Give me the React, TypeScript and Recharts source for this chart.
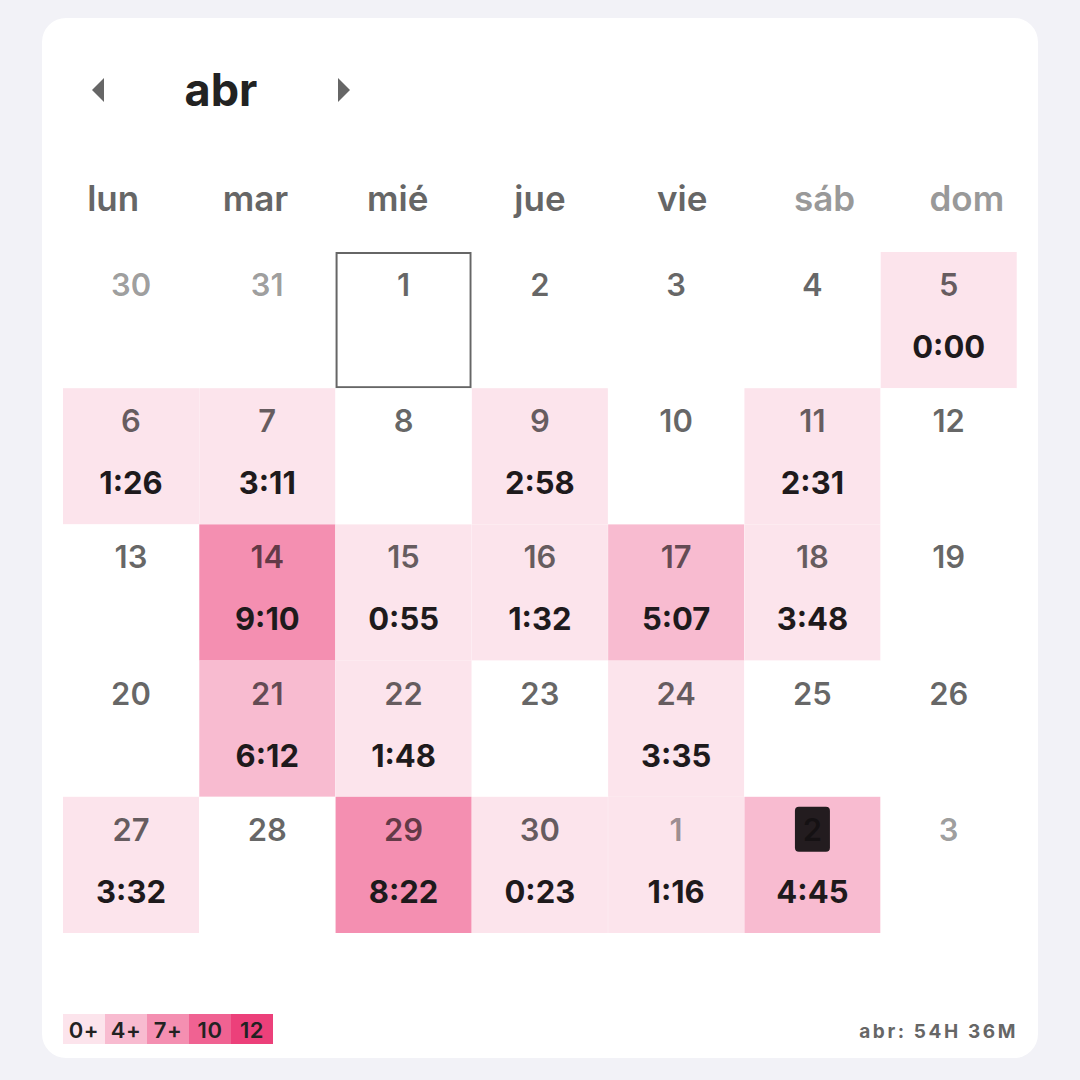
import { BarChart, Bar, XAxis, YAxis } from 'recharts';

// month shown + summary
const monthLabel = 'abr';
const totalLabel = 'abr: 54H 36M';

const weekdays = ['lun', 'mar', 'mié', 'jue', 'vie', 'sáb', 'dom'];

// day numbers, one array per calendar row
const week1Days = [30, 31, 1, 2, 3, 4, 5];
const week2Days = [6, 7, 8, 9, 10, 11, 12];
const week3Days = [13, 14, 15, 16, 17, 18, 19];
const week4Days = [20, 21, 22, 23, 24, 25, 26];
const week5Days = [27, 28, 29, 30, 1, 2, 3];

// time logged per day (h:mm), null = nothing
const week1Times = [null, null, null, null, null, null, '0:00'];
const week2Times = ['1:26', '3:11', null, '2:58', null, '2:31', null];
const week3Times = [null, '9:10', '0:55', '1:32', '5:07', '3:48', null];
const week4Times = [null, '6:12', '1:48', null, '3:35', null, null];
const week5Times = ['3:32', null, '8:22', '0:23', '1:16', '4:45', null];

const selectedDay = { week: 0, col: 2 }; // abr 1
const todayDay = { week: 4, col: 5 }; // may 2

// legend buckets (hours)
const legendLabels = ['0+', '4+', '7+', '10', '12'];
const legendThresholds = [0, 4, 7, 10, 12];

const weeksDays = [week1Days, week2Days, week3Days, week4Days, week5Days];
const weeksTimes = [week1Times, week2Times, week3Times, week4Times, week5Times];

const palette = ['#fce4ec', '#f8bbd0', '#f48fb1', '#f06292', '#ec407a'];
const FONT = 'Inter, "Noto Sans", sans-serif';

const toHours = (t: string) => {
  const [h, m] = t.split(':').map(Number);
  return h + m / 60;
};

const colorFor = (t: string | null) => {
  if (t === null) return '#ffffff';
  const hrs = toHours(t);
  let idx = 0;
  legendThresholds.forEach((th, i) => {
    if (hrs >= th) idx = i;
  });
  return palette[idx];
};

const isOutOfMonth = (week: number, day: number) =>
  (week === 0 && day > 7) || (week === weeksDays.length - 1 && day < 7);

const data = weekdays.map((d) => ({ day: d, w0: 1, w1: 1, w2: 1, w3: 1, w4: 1 }));

const makeShape = (week: number) => (props: any) => {
  const { x, y, width, height, index } = props;
  const top = Math.min(y, y + height);
  const h = Math.abs(height);
  const cx = x + width / 2;
  const dayNum = weeksDays[week][index];
  const time = weeksTimes[week][index];
  const isSel = selectedDay.week === week && selectedDay.col === index;
  const isToday = todayDay.week === week && todayDay.col === index;
  return (
    <g>
      <rect x={x} y={top} width={width} height={h} fill={colorFor(time)} />
      {isSel && (
        <rect x={x + 1} y={top + 1} width={width - 2} height={h - 2} fill="none" stroke="#666" strokeWidth={2} />
      )}
      {isToday && <rect x={cx - 17.5} y={top + 10} width={35} height={45} rx={4} fill="#231c1f" />}
      <text
        x={cx}
        y={top + 44}
        textAnchor="middle"
        fontFamily={FONT}
        fontSize={31}
        fontWeight={600}
        fill="#000"
        fillOpacity={isOutOfMonth(week, dayNum) ? 0.4 : 0.6}
      >
        {dayNum}
      </text>
      {time && (
        <text x={cx} y={top + 106} textAnchor="middle" fontFamily={FONT} fontSize={31} fontWeight={700} fill="#1e1a1c">
          {time}
        </text>
      )}
    </g>
  );
};

const WeekdayTick = (props: any) => {
  const { x, y, payload, index } = props;
  return (
    <text x={x} y={y} dy={-33} textAnchor="middle" fontFamily={FONT} fontSize={35} fontWeight={600} fill={index >= 5 ? '#999' : '#666'}>
      {payload.value}
    </text>
  );
};

export default function App() {
  return (
    <div style={{ position: 'absolute', left: 0, top: 0, width: 1080, height: 1080, background: '#f2f2f7', overflow: 'hidden' }}>
      <div style={{ position: 'absolute', left: 42, top: 18, width: 996, height: 1040, borderRadius: 24, background: '#fff' }} />
      <svg width={1080} height={1080} style={{ position: 'absolute', left: 0, top: 0 }}>
        <polygon points="92,90 104,78 104,102" fill="#666" />
        <polygon points="350,90 338,78 338,102" fill="#666" />
        <text x={221} y={106} textAnchor="middle" fontFamily={FONT} fontSize={45} fontWeight={700} fill="#222">
          {monthLabel}
        </text>
        {legendLabels.map((l, i) => (
          <g key={l}>
            <rect x={63 + i * 42} y={1014} width={42} height={30} fill={palette[i]} />
            <text x={84 + i * 42} y={1038} textAnchor="middle" fontFamily={FONT} fontSize={22} fontWeight={600} letterSpacing={0.5} fill="#222">
              {l}
            </text>
          </g>
        ))}
        <text x={1018} y={1038} textAnchor="end" fontFamily={FONT} fontSize={19} fontWeight={700} letterSpacing={2.6} fill="#666">
          {totalLabel}
        </text>
      </svg>
      <div style={{ position: 'absolute', left: 0, top: 0 }}>
        <BarChart
          width={1080}
          height={1080}
          data={data}
          margin={{ top: 172, right: 63, bottom: 147, left: 63 }}
          barCategoryGap={0}
          barGap={0}
        >
          <XAxis xAxisId="cells" dataKey="day" hide />
          <XAxis
            xAxisId="labels"
            dataKey="day"
            orientation="top"
            height={80}
            axisLine={false}
            tickLine={false}
            interval={0}
            padding={{ left: -21, right: -21 }}
            tick={<WeekdayTick />}
          />
          <YAxis type="number" domain={[0, 5]} reversed hide />
          {[0, 1, 2, 3, 4].map((w) => (
            <Bar
              key={w}
              xAxisId="cells"
              dataKey={`w${w}`}
              stackId="cal"
              isAnimationActive={false}
              shape={makeShape(w)}
            />
          ))}
        </BarChart>
      </div>
    </div>
  );
}
